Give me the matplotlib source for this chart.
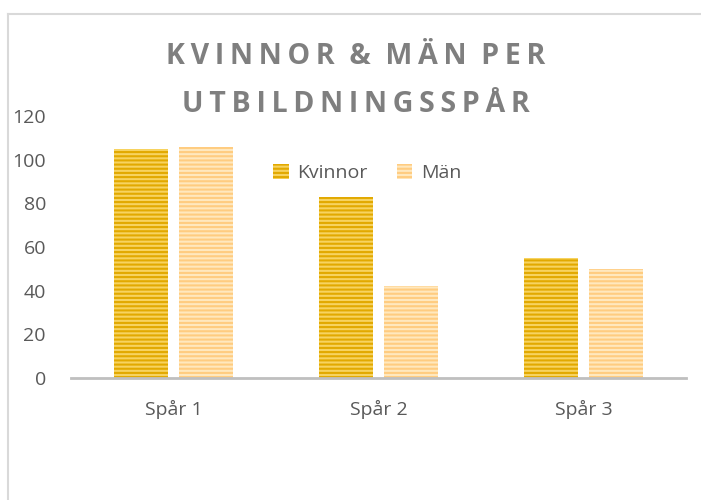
import numpy as np
import matplotlib.pyplot as plt
from matplotlib.lines import Line2D

plt.rcParams['font.family'] = ['Open Sans', 'DejaVu Sans']
plt.rcParams['hatch.linewidth'] = 1.5

# data
categories = ['Spår 1', 'Spår 2', 'Spår 3']
kvinnor = [105, 83, 55]
man = [106, 42, 50]

x = np.arange(len(categories))
w = 0.26

fig = plt.figure(figsize=(7.01, 5), dpi=100)
ax = fig.add_axes([71 / 701, 1 - 378 / 500, 615 / 701, 262 / 500])

ax.bar(x - 0.158, kvinnor, w, color='#F7D360', edgecolor='#E2A900',
       hatch='----', linewidth=0, label='Kvinnor')
ax.bar(x + 0.158, man, w, color='#FFE8BE', edgecolor='#FFCC80',
       hatch='----', linewidth=0, label='Män')

ax.set_xlim(-0.5, 2.5)
ax.set_ylim(0, 120)
ax.set_yticks(np.arange(0, 121, 20))
ax.set_xticks(x)
ax.set_xticklabels(categories)
ax.tick_params(axis='both', length=0, labelsize=14, labelcolor='#595959')
ax.tick_params(axis='y', pad=18)
ax.tick_params(axis='x', pad=16)
for s in ['top', 'right', 'left']:
    ax.spines[s].set_visible(False)
ax.spines['bottom'].set_color('#BFBFBF')
ax.spines['bottom'].set_linewidth(2)

ax.legend(loc='upper left', bbox_to_anchor=(0.3, 0.885), ncol=2, frameon=False,
          fontsize=14, labelcolor='#595959', handlelength=0.8, handleheight=0.8,
          handletextpad=0.45, columnspacing=1.5)

sp = '\u2009'
line1 = sp.join('KVINNOR') + '  &  ' + sp.join('MÄN') + '  ' + sp.join('PER')
line2 = sp.join('UTBILDNINGSSPÅR')
fig.text(0.507, 1 - 57 / 500, line1, ha='center', va='center', fontsize=20.5,
         fontweight='bold', color='#7F7F7F')
fig.text(0.507, 1 - 104 / 500, line2, ha='center', va='center', fontsize=20.5,
         fontweight='bold', color='#7F7F7F')

# chart border
fig.add_artist(Line2D([8 / 701, 8 / 701], [0, 1 - 14 / 500], color='#D9D9D9', lw=1.5))
fig.add_artist(Line2D([8 / 701, 1], [1 - 14 / 500, 1 - 14 / 500], color='#D9D9D9', lw=1.5))

fig.savefig('out.png', dpi=100)
